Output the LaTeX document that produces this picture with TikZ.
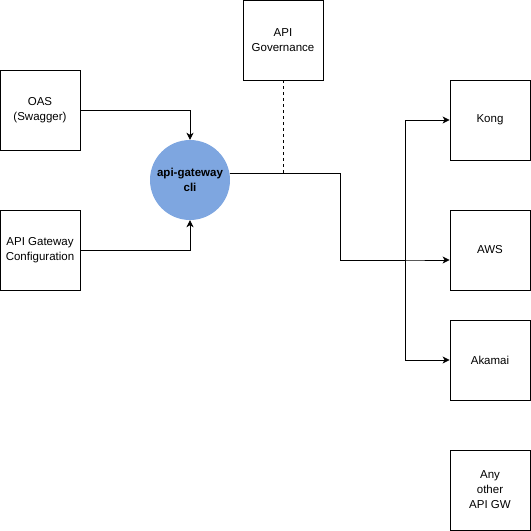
\documentclass[tikz,border=0pt]{standalone}
\usepackage{fontspec}
\setmainfont{Liberation Sans}
\usetikzlibrary{arrows.meta,positioning}
\definecolor{cliblue}{HTML}{7EA6E0}

\begin{document}
\begin{tikzpicture}[x=1pt,y=-1pt,
  box/.style={draw,line width=0.8pt,minimum size=80pt,inner sep=0pt,align=center,font=\fontsize{11.5}{15}\selectfont},
  conn/.style={-{Stealth[length=7pt,width=7pt,inset=2pt]},line width=0.8pt}]
  \useasboundingbox (0,0) rectangle (531,531);
  % sources
  \node[box] (oas) at (40,110) {OAS\\(Swagger)};
  \node[box] (cfg) at (40,250) {API Gateway\\Configuration};
  \node[box] (gov) at (283,40) {API\\Governance};
  \node[circle,fill=cliblue,minimum size=80pt,inner sep=0pt,align=center,font=\fontsize{11.5}{15}\selectfont\bfseries] (cli) at (190,180) {api-gateway\\cli};
  % targets
  \node[box] (kong) at (490,120) {Kong};
  \node[box] (aws) at (490,250) {AWS};
  \node[box] (akamai) at (490,360) {Akamai};
  \node[box] (other) at (490,490) {Any\\other\\API GW};
  \coordinate (bend) at (340,260);
  \coordinate (fork) at (405,260);
  \draw[conn] (oas.east) -| (cli.north);
  \draw[conn] (cfg.east) -| (cli.south);
  \draw[line width=0.8pt,dashed] (gov.south) -- (gov.south |- cli.10);
  \foreach \t in {kong,akamai} \draw[conn] (cli.10) -| (bend) -- (fork) |- (\t.west);
  \draw[conn] (cli.10) -| (bend) -- (fork) -- (fork -| aws.west);
\end{tikzpicture}
\end{document}
